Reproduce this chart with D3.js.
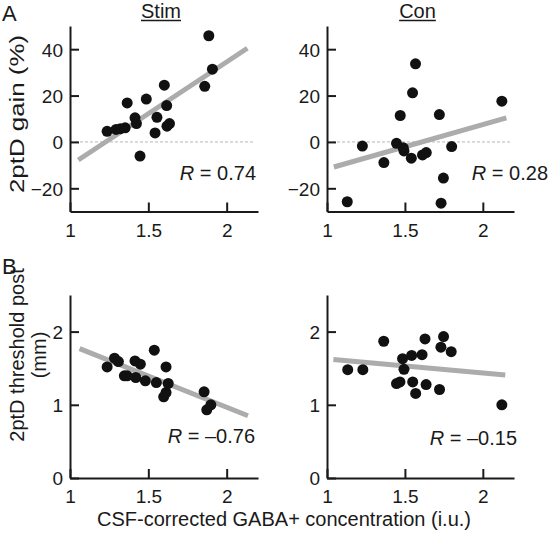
<!DOCTYPE html>
<html><head><meta charset="utf-8">
<script src="https://cdn.jsdelivr.net/npm/d3@7"></script>
<style>
body{margin:0;background:#fff;}
text{font-family:"Liberation Sans",Arial,Helvetica,sans-serif;fill:#1a1a1a;}
</style></head>
<body>
<svg id="c" width="551" height="536"></svg>
<script>
// ---- data ----
const xTicks = [1, 1.5, 2];
const gainTicks = [-20, 0, 20, 40];
const threshTicks = [0, 1, 2];
const colTitles = ["Stim", "Con"];
const rowLetters = ["A", "B"];

const stimGainX = [1.237,1.294,1.322,1.352,1.365,1.415,1.424,1.447,1.487,1.543,1.555,1.602,1.617,1.619,1.635,1.860,1.886,1.909];
const stimGainY = [4.6,5.4,5.7,6.1,16.8,10.4,7.9,-6.1,18.5,3.9,10.6,24.5,15.7,6.8,7.9,24.0,45.8,31.4];

const conGainX = [1.130,1.227,1.365,1.446,1.470,1.489,1.494,1.541,1.549,1.568,1.613,1.637,1.721,1.732,1.747,1.800,2.122];
const conGainY = [-25.8,-1.8,-8.9,-0.6,11.4,-2.5,-3.9,-7.0,21.2,33.7,-5.6,-4.6,11.8,-26.4,-15.6,-2.0,17.6];

const stimThrX = [1.237,1.284,1.309,1.347,1.365,1.415,1.420,1.449,1.481,1.538,1.551,1.598,1.613,1.613,1.627,1.856,1.873,1.899];
const stimThrY = [1.518,1.637,1.591,1.396,1.396,1.600,1.373,1.555,1.327,1.746,1.304,1.109,1.168,1.518,1.291,1.177,0.932,1.000];

const conThrX = [1.133,1.230,1.364,1.446,1.468,1.485,1.494,1.543,1.550,1.569,1.610,1.629,1.636,1.722,1.731,1.748,1.797,2.122];
const conThrY = [1.48,1.48,1.868,1.29,1.312,1.63,1.484,1.674,1.312,1.155,1.684,1.90,1.277,1.209,1.787,1.932,1.725,1.0];

// regression line endpoints [x0,x1], [y0,y1]
const stimGainFitX = [1.053, 2.132], stimGainFitY = [-7.8, 40.4];
const conGainFitX = [1.044, 2.151], conGainFitY = [-10.8, 10.4];
const stimThrFitX = [1.061, 2.136], stimThrFitY = [1.768, 0.85];
const conThrFitX = [1.041, 2.144], conThrFitY = [1.62, 1.407];

const rLabels = ["0.74", "0.28", "\u20130.76", "\u20130.15"];

// ---- layout ----
const svg = d3.select("#c");
const colRange = [[70, 258], [327, 514]];
const rowRange = [[211.5, 26], [478, 295]];
const rowDomain = [[-30, 50], [0, 2.5]];
const rowTicks = [gainTicks, threshTicks];

const panels = [
  {r:0,c:0,x:stimGainX,y:stimGainY,fx:stimGainFitX,fy:stimGainFitY,lab:rLabels[0],lx:256,ly:180},
  {r:0,c:1,x:conGainX,y:conGainY,fx:conGainFitX,fy:conGainFitY,lab:rLabels[1],lx:548,ly:180},
  {r:1,c:0,x:stimThrX,y:stimThrY,fx:stimThrFitX,fy:stimThrFitY,lab:rLabels[2],lx:255,ly:443},
  {r:1,c:1,x:conThrX,y:conThrY,fx:conThrFitX,fy:conThrFitY,lab:rLabels[3],lx:517,ly:445}
];

const fmtY = d => d < 0 ? "\u2212" + Math.abs(d) : String(d);

panels.forEach(p => {
  const xs = d3.scaleLinear().domain([1, 2.2]).range(colRange[p.c]);
  const ys = d3.scaleLinear().domain(rowDomain[p.r]).range(rowRange[p.r]);
  const g = svg.append("g");

  if (p.r === 0) {
    g.append("line").attr("x1", xs(1)).attr("x2", xs(2.2) - 4)
      .attr("y1", ys(0)).attr("y2", ys(0))
      .attr("stroke", "#b8b8b8").attr("stroke-width", 1).attr("stroke-dasharray", "3,2");
  }

  // axes
  const xa = g.append("g").attr("transform", `translate(0,${ys.range()[0]})`)
    .call(d3.axisBottom(xs).tickValues(xTicks).tickSizeInner(-9).tickSizeOuter(0).tickPadding(0).tickFormat(d3.format("")));
  xa.select(".domain").attr("stroke", "#1a1a1a").attr("stroke-width", 2);
  xa.selectAll(".tick line").attr("stroke", "#1a1a1a").attr("stroke-width", 2);
  xa.selectAll(".tick text").attr("y", 25).attr("dy", 0).attr("font-size", 19).attr("fill", "#1a1a1a");

  const ya = g.append("g").attr("transform", `translate(${xs(1)},0)`)
    .call(d3.axisLeft(ys).tickValues(rowTicks[p.r]).tickSizeInner(-9).tickSizeOuter(0).tickPadding(0).tickFormat(fmtY));
  ya.select(".domain").attr("stroke", "#1a1a1a").attr("stroke-width", 2);
  ya.selectAll(".tick line").attr("stroke", "#1a1a1a").attr("stroke-width", 2);
  ya.selectAll(".tick text").attr("x", -7).attr("dy", "0.36em").attr("font-size", 19).attr("fill", "#1a1a1a");

  // fit line
  g.append("line").attr("x1", xs(p.fx[0])).attr("x2", xs(p.fx[1]))
    .attr("y1", ys(p.fy[0])).attr("y2", ys(p.fy[1]))
    .attr("stroke", "#acacac").attr("stroke-width", 5);

  // dots
  g.selectAll("circle").data(p.x.map((v, i) => [v, p.y[i]])).enter().append("circle")
    .attr("cx", d => xs(d[0])).attr("cy", d => ys(d[1])).attr("r", 5.5).attr("fill", "#111");

  // R label
  const t = g.append("text").attr("x", p.lx).attr("y", p.ly).attr("text-anchor", "end").attr("font-size", 20);
  t.append("tspan").attr("font-style", "italic").text("R");
  t.append("tspan").text(" = " + p.lab);
});

// column titles
colTitles.forEach((s, i) => {
  const cx = (colRange[i][0] + colRange[i][1]) / 2 - 3;
  const t = svg.append("text").attr("x", cx).attr("y", 17.5).attr("text-anchor", "middle")
    .attr("font-size", 20).text(s);
  const w = t.node().getComputedTextLength();
  svg.append("line").attr("x1", cx - w / 2).attr("x2", cx + w / 2).attr("y1", 20.5).attr("y2", 20.5)
    .attr("stroke", "#1a1a1a").attr("stroke-width", 1.3);
});

// row letters
svg.append("text").attr("x", 2).attr("y", 21).attr("font-size", 22).text(rowLetters[0]);
svg.append("text").attr("x", 2).attr("y", 274).attr("font-size", 22).text(rowLetters[1]);

// y-axis titles
svg.append("text").attr("transform", "translate(24,114) rotate(-90)").attr("text-anchor", "middle")
  .attr("font-size", 20).attr("textLength", 158).attr("lengthAdjust", "spacingAndGlyphs").text("2ptD gain (%)");
svg.append("text").attr("transform", "translate(24,355) rotate(-90)").attr("text-anchor", "middle")
  .attr("font-size", 20).text("2ptD threshold post");
svg.append("text").attr("transform", "translate(46,355) rotate(-90)").attr("text-anchor", "middle")
  .attr("font-size", 20).text("(mm)");

// x-axis title
svg.append("text").attr("x", 284).attr("y", 526).attr("text-anchor", "middle")
  .attr("font-size", 20).text("CSF-corrected GABA+ concentration (i.u.)");
</script>
</body></html>
